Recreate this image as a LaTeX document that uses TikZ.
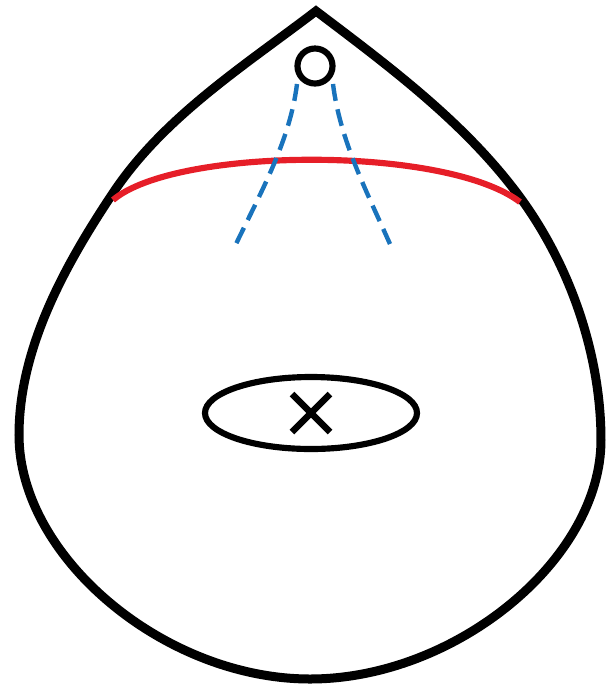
\documentclass[tikz,border=0pt]{standalone}
\definecolor{dropred}{RGB}{230,30,40}
\definecolor{dashblue}{RGB}{25,115,188}
\tikzset{
  outline/.style={draw=black, line width=2.56pt, line join=miter},
  thickline/.style={draw=black, line width=1.75pt},
  redline/.style={draw=dropred, line width=1.75pt},
  blueline/.style={draw=dashblue, line width=1.25pt, dash pattern=on 4.85pt off 2.45pt}
}
\begin{document}
\begin{tikzpicture}[x=0.01cm, y=-0.01cm]
\useasboundingbox (0,0) rectangle (605,684);
% drop outline
\coordinate (apex) at (316,11);
\coordinate (pl) at (113,193);
\coordinate (lft) at (19,435);
\coordinate (bot) at (310,679);
\coordinate (rgt) at (601,440);
\coordinate (pr) at (522,200);
\draw[outline] (apex)
  .. controls (244,66) and (163.5,117) .. (pl)
  .. controls (65,265) and (19,348) .. (lft)
  .. controls (19,557) and (164.5,679) .. (bot)
  .. controls (455.5,679) and (601,559.5) .. (rgt)
  .. controls (601,356) and (571,268) .. (pr)
  .. controls (467.6,124.6) and (390,67) .. (apex) -- cycle;
% red line
\coordinate (rl) at (113,200);
\coordinate (rr) at (520,202);
\draw[redline] (rl) .. controls (175,147) and (445,145) .. (rr);
% small circle
\node[circle, thickline, minimum size=0.35cm, inner sep=0pt] (hole) at (315,66) {};
% dashed blue lines
\coordinate (bl0) at (297,84);
\coordinate (bl1) at (236,244);
\coordinate (br0) at (333,84);
\coordinate (br1) at (390,244);
\draw[blueline] (bl0) .. controls (290,140) and (262,190) .. (bl1);
\draw[blueline] (br0) .. controls (340,140) and (366,190) .. (br1);
% ellipse with cross
\coordinate (ec) at (311,413);
\draw[thickline] (ec) ellipse [x radius=106, y radius=36];
\draw[draw=black, line width=1.9pt] (292,394) -- (330,432);
\draw[draw=black, line width=1.9pt] (330,394) -- (292,432);
\end{tikzpicture}
\end{document}
